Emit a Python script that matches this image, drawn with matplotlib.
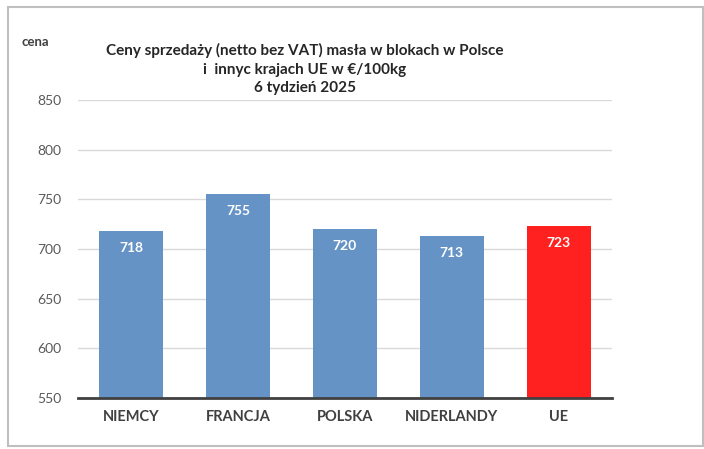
import matplotlib.pyplot as plt
from matplotlib.patches import Rectangle

kraje = ['NIEMCY', 'FRANCJA', 'POLSKA', 'NIDERLANDY', 'UE']
ceny = [718, 755, 720, 713, 723]
kolory = ['#6593c6', '#6593c6', '#6593c6', '#6593c6', '#ff2020']
y_ticks = [550, 600, 650, 700, 750, 800, 850]

plt.rcParams['font.family'] = ['Lato', 'DejaVu Sans']

fig = plt.figure(figsize=(7.04, 4.49), dpi=100)
ax = fig.add_axes([0.1108, 0.1136, 0.7585, 0.6637])

x = range(len(kraje))
slupki = ax.bar(x, ceny, width=0.6, color=kolory, zorder=2)

# wartosci wewnatrz slupkow
for s, v in zip(slupki, ceny):
    ax.annotate(str(v), (s.get_x() + s.get_width() / 2, v),
                xytext=(0, -12), textcoords='offset points',
                ha='center', va='center', color='white',
                fontsize=10, fontweight='bold')

ax.set_ylim(550, 850)
ax.set_xlim(-0.5, len(kraje) - 0.5)
ax.set_yticks(y_ticks)
ax.set_xticks(list(x))
ax.set_xticklabels(kraje, fontweight='bold', fontsize=10.5, color='#404040')
ax.tick_params(axis='y', labelsize=10, colors='#595959', length=0, pad=12)
ax.tick_params(axis='x', length=0, pad=9)
ax.yaxis.grid(True, color='#d9d9d9', linewidth=1, zorder=0)
ax.set_axisbelow(True)
for sp in ['top', 'right', 'left']:
    ax.spines[sp].set_visible(False)
ax.spines['bottom'].set_color('#404040')
ax.spines['bottom'].set_linewidth(2)
ax.spines['bottom'].set_zorder(3)

fig.text(22 / 704, 1 - 42 / 449, 'cena', fontsize=9.5, fontweight='bold',
         color='#404040', ha='left', va='center')
fig.text(305 / 704, 1 - 69 / 449,
         'Ceny sprzedaży (netto bez VAT) masła w blokach w Polsce\n'
         'i  innyc krajach UE w €/100kg\n6 tydzień 2025',
         ha='center', va='center', fontsize=11, fontweight='bold',
         color='#262626', linespacing=1.42)

# ramka wokol wykresu
fig.patches.append(Rectangle((8 / 704, 3 / 449), 695 / 704, 439 / 449,
                             transform=fig.transFigure, fill=False,
                             edgecolor='#bfbfbf', linewidth=1.5))

fig.savefig('out.png', dpi=100)
